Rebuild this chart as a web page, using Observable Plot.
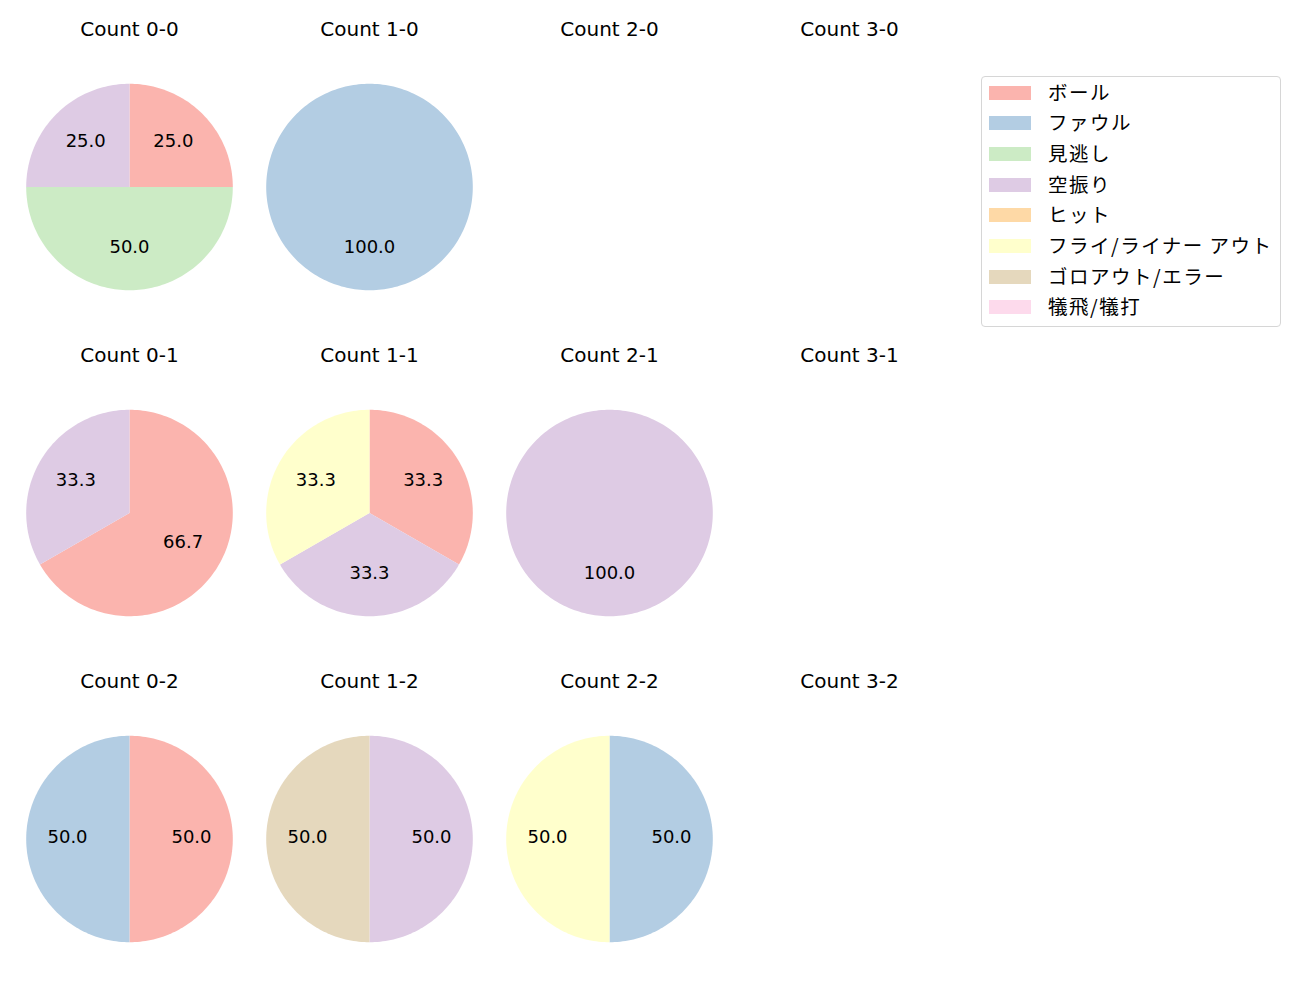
<!DOCTYPE html>
<html>
<head>
<meta charset="utf-8">
<script src="https://cdn.jsdelivr.net/npm/d3@7"></script>
<script src="https://cdn.jsdelivr.net/npm/@observablehq/plot@0.6"></script>
<style>
  html, body { margin: 0; padding: 0; background: #fff; overflow: hidden; }
  #wrap { position: relative; width: 1300px; height: 1000px; font-family: "Noto Sans CJK JP", "Noto Sans", sans-serif; }
  #legend { position: absolute; left: 981px; top: 76px; width: 298px; height: 249px; border: 1px solid #d6d6d6; border-radius: 4px; background: #fff; box-sizing: content-box; }
  .item { position: absolute; left: 7px; height: 24px; display: flex; align-items: center; font-size: 19.5px; letter-spacing: 1.5px; color: #000; white-space: nowrap; }
  .sw { width: 42px; height: 14px; margin-right: 17px; flex: none; position: relative; top: 1.5px; }
</style>
</head>
<body>
<div id="wrap"><div id="chart"></div><div id="legend"></div></div>
<script>
// ---- data ----
const categories = ["ボール", "ファウル", "見逃し", "空振り", "ヒット", "フライ/ライナー アウト", "ゴロアウト/エラー", "犠飛/犠打"];
const colors = ["#fbb4ae", "#b3cde3", "#ccebc5", "#decbe4", "#fed9a6", "#ffffcc", "#e5d8bd", "#fddaec"];
const balls = [0, 1, 2, 3];
const strikes = [0, 1, 2];
// percentage per category (order as categories) for each count "balls-strikes"
const count_0_0 = [25, 0, 50, 25, 0, 0, 0, 0];
const count_1_0 = [0, 100, 0, 0, 0, 0, 0, 0];
const count_2_0 = [];
const count_3_0 = [];
const count_0_1 = [66.7, 0, 0, 33.3, 0, 0, 0, 0];
const count_1_1 = [33.3, 0, 0, 33.3, 0, 33.3, 0, 0];
const count_2_1 = [0, 0, 0, 100, 0, 0, 0, 0];
const count_3_1 = [];
const count_0_2 = [50, 50, 0, 0, 0, 0, 0, 0];
const count_1_2 = [0, 0, 0, 50, 0, 0, 50, 0];
const count_2_2 = [0, 50, 0, 0, 0, 50, 0, 0];
const count_3_2 = [];

const countValues = {
  "0-0": count_0_0, "1-0": count_1_0, "2-0": count_2_0, "3-0": count_3_0,
  "0-1": count_0_1, "1-1": count_1_1, "2-1": count_2_1, "3-1": count_3_1,
  "0-2": count_0_2, "1-2": count_1_2, "2-2": count_2_2, "3-2": count_3_2
};

// ---- build tables ----
const titles = [];
const wedgePts = [];
const labels = [];
const pie = d3.pie().sort(null).value(d => d.v).startAngle(0).endAngle(2 * Math.PI);
for (const s of strikes) {
  for (const b of balls) {
    const key = `${b}-${s}`;
    titles.push({b, s, title: `Count ${key}`});
    const vals = countValues[key].map((v, i) => ({cat: categories[i], v})).filter(d => d.v > 0);
    if (!vals.length) continue;
    const total = d3.sum(vals, d => d.v);
    pie(vals).forEach((a, k) => {
      const id = `${key}-${k}`;
      const n = Math.max(2, Math.ceil((a.endAngle - a.startAngle) / (2 * Math.PI) * 240));
      wedgePts.push({b, s, id, cat: a.data.cat, x: 0, y: 0});
      for (let j = 0; j <= n; j++) {
        const t = a.startAngle + (a.endAngle - a.startAngle) * j / n;
        wedgePts.push({b, s, id, cat: a.data.cat, x: Math.sin(t), y: Math.cos(t)});
      }
      wedgePts.push({b, s, id, cat: a.data.cat, x: 0, y: 0});
      const mid = (a.startAngle + a.endAngle) / 2;
      labels.push({b, s, x: 0.6 * Math.sin(mid), y: 0.6 * Math.cos(mid), text: (a.data.v / total * 100).toFixed(1)});
    });
  }
}

const R = 103.3;           // pie radius in px
const colStep = 240;
const rowStep = 326.5;
const pInner = 0.2;
const bandH = rowStep * (1 - pInner);
const xr = colStep / 2 / R;
const yr = bandH / 2 / R;
const top0 = 512.5 - rowStep - bandH / 2;

const chart = Plot.plot({
  width: 1300,
  height: 1000,
  marginLeft: 9.3,
  marginRight: 1300 - 9.3 - 4 * colStep,
  marginTop: top0,
  marginBottom: 1000 - top0 - rowStep * (3 - pInner),
  style: {fontFamily: '"DejaVu Sans", "Noto Sans CJK JP", sans-serif', fontSize: "18px", background: "white"},
  fx: {domain: balls, padding: 0, axis: null},
  fy: {domain: strikes, paddingInner: pInner, paddingOuter: 0, axis: null},
  x: {domain: [-xr, xr], axis: null},
  y: {domain: [-yr, yr], axis: null},
  color: {domain: categories, range: colors},
  marks: [
    Plot.line(wedgePts, {fx: "b", fy: "s", x: "x", y: "y", z: "id", fill: "cat", stroke: null, curve: "linear"}),
    Plot.text(labels, {fx: "b", fy: "s", x: "x", y: "y", dy: -1.5, text: "text", fill: "black", fontSize: 18}),
    Plot.text(titles, {fx: "b", fy: "s", frameAnchor: "top", dy: -(157.5 - bandH / 2), text: "title", fill: "black", fontSize: 20, lineAnchor: "middle"})
  ]
});
document.getElementById("chart").appendChild(chart);

// ---- legend ----
const legend = document.getElementById("legend");
categories.forEach((c, i) => {
  const div = document.createElement("div");
  div.className = "item";
  div.style.top = (2 + i * 30.7) + "px";
  div.innerHTML = `<span class="sw" style="background:${colors[i]}"></span><span>${c}</span>`;
  legend.appendChild(div);
});
</script>
</body>
</html>
